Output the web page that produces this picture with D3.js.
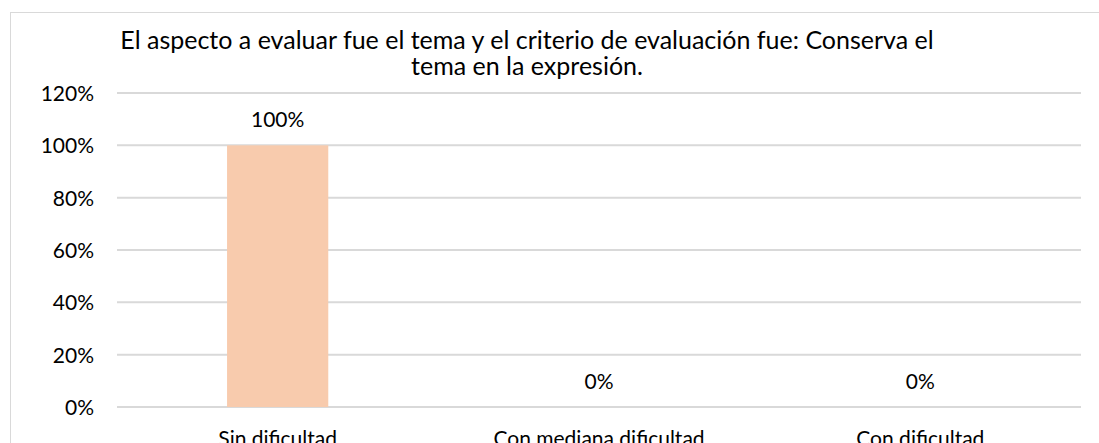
<!DOCTYPE html>
<html>
<head>
<meta charset="utf-8">
<script src="https://cdn.jsdelivr.net/npm/d3@7"></script>
<style>
  body{margin:0;background:#fff;}
  svg{display:block;font-family:Lato, "Open Sans", sans-serif;}
</style>
</head>
<body>
<svg id="chart"></svg>
<script>
// data
const categories=["Sin dificultad","Con mediana dificultad","Con dificultad"];
const values=[1,0,0];
const yTicks=[0,0.2,0.4,0.6,0.8,1,1.2];
const titleLines=["El aspecto a evaluar fue el tema y el criterio de evaluación fue: Conserva el","tema en la expresión."];

let w=1099,h=443;
let svg=d3.select('#chart').attr('width',w).attr('height',h);

// chart frame
svg.append('rect')
  .attr('x',10.5).attr('y',12.5)
  .attr('width',1100).attr('height',450)
  .attr('fill','#fff').attr('stroke','#d9d9d9').attr('stroke-width',1);

const m={left:117,right:1081,top:93,bottom:407};

let x=d3.scaleBand().domain(categories).range([m.left,m.right]).paddingInner(0.685).paddingOuter(0.3425);
let y=d3.scaleLinear().domain([0,1.2]).range([m.bottom,m.top]);
let fmt=d3.format('.0%');

// gridlines
svg.append('g')
  .selectAll('line')
  .data(yTicks)
  .join('line')
  .attr('x1',m.left).attr('x2',m.right)
  .attr('y1',d=>y(d)).attr('y2',d=>y(d))
  .attr('stroke','#d9d9d9').attr('stroke-width',2);

// y axis labels
svg.append('g')
  .selectAll('text')
  .data(yTicks)
  .join('text')
  .attr('x',94).attr('y',d=>y(d)+8)
  .attr('text-anchor','end')
  .attr('font-size',21)
  .attr('fill','#000')
  .text(fmt);

// bars
svg.append('g')
  .selectAll('rect')
  .data(values)
  .join('rect')
  .attr('x',(d,i)=>x(categories[i]))
  .attr('width',x.bandwidth())
  .attr('y',d=>y(d))
  .attr('height',d=>y(0)-y(d))
  .attr('fill','#f8cbad');

// data labels
svg.append('g')
  .selectAll('text')
  .data(values)
  .join('text')
  .attr('x',(d,i)=>x(categories[i])+x.bandwidth()/2)
  .attr('y',d=>y(d)-18)
  .attr('text-anchor','middle')
  .attr('font-size',21)
  .attr('fill','#000')
  .text(fmt);

// category labels (cut by the bottom edge, as in the source)
svg.append('g')
  .selectAll('text')
  .data(categories)
  .join('text')
  .attr('x',d=>x(d)+x.bandwidth()/2)
  .attr('y',446)
  .attr('text-anchor','middle')
  .attr('font-size',21)
  .attr('fill','#000')
  .text(d=>d);

// title
svg.append('g')
  .selectAll('text')
  .data(titleLines)
  .join('text')
  .attr('x',527)
  .attr('y',(d,i)=>49+i*26)
  .attr('text-anchor','middle')
  .attr('font-size',25)
  .attr('fill','#000')
  .text(d=>d);
</script>
</body>
</html>
